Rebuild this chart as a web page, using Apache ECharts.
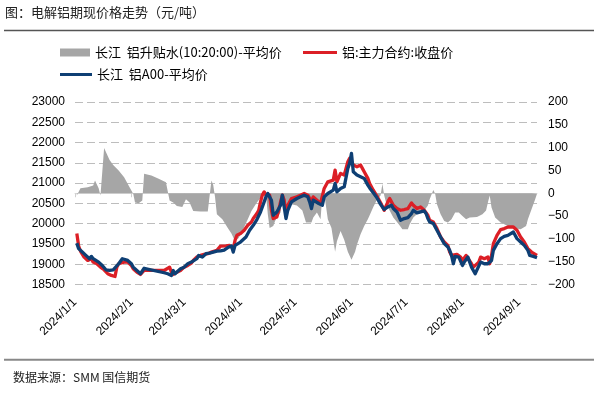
<!DOCTYPE html>
<html>
<head>
<meta charset="utf-8">
<script src="https://cdn.jsdelivr.net/npm/echarts@6/dist/echarts.min.js"></script>
<style>
html,body{margin:0;padding:0;background:#fff;}
#chart{width:594px;height:393px;}
</style>
</head>
<body>
<div id="chart"></div>
<script>
// ---- Data ----
const titleText = '图：电解铝期现价格走势（元/吨）';
const sourceText = '数据来源：SMM 国信期货';
const nameBasis = '长江  铝升贴水(10:20:00)-平均价';
const nameFutures = '铝:主力合约:收盘价';
const nameSpot = '长江  铝A00-平均价';

const xTickDates = ['2024-01-01','2024-02-01','2024-03-01','2024-04-01','2024-05-01','2024-06-01','2024-07-01','2024-08-01','2024-09-01'];
const xMinDate = '2024-01-01';
const xMaxDate = '2024-09-11';
const leftTicks = [18500, 23000, 500];   // min, max, step
const rightTicks = [-200, 200, 50];      // min, max, step

// 长江 铝A00-平均价 (left axis)
const spotDates = ['2024-01-02','2024-01-03','2024-01-05','2024-01-07','2024-01-09','2024-01-10','2024-01-11','2024-01-12','2024-01-14','2024-01-16','2024-01-18','2024-01-20','2024-01-22','2024-01-23','2024-01-25','2024-01-26','2024-01-27','2024-01-28','2024-01-30','2024-02-01','2024-02-02','2024-02-04','2024-02-06','2024-02-07','2024-02-08','2024-02-19','2024-02-21','2024-02-23','2024-02-24','2024-02-25','2024-02-26','2024-02-28','2024-03-01','2024-03-03','2024-03-05','2024-03-06','2024-03-08','2024-03-09','2024-03-11','2024-03-13','2024-03-15','2024-03-17','2024-03-19','2024-03-21','2024-03-23','2024-03-25','2024-03-27','2024-03-28','2024-03-29','2024-04-01','2024-04-04','2024-04-06','2024-04-08','2024-04-10','2024-04-12','2024-04-13','2024-04-14','2024-04-15','2024-04-16','2024-04-17','2024-04-18','2024-04-19','2024-04-20','2024-04-21','2024-04-23','2024-04-24','2024-04-25','2024-04-26','2024-04-27','2024-04-29','2024-04-30','2024-05-02','2024-05-04','2024-05-06','2024-05-08','2024-05-09','2024-05-10','2024-05-11','2024-05-12','2024-05-14','2024-05-16','2024-05-17','2024-05-19','2024-05-20','2024-05-22','2024-05-23','2024-05-24','2024-05-26','2024-05-28','2024-05-30','2024-05-31','2024-06-01','2024-06-02','2024-06-03','2024-06-04','2024-06-06','2024-06-07','2024-06-08','2024-06-10','2024-06-11','2024-06-13','2024-06-15','2024-06-17','2024-06-19','2024-06-21','2024-06-23','2024-06-24','2024-06-26','2024-06-28','2024-06-30','2024-07-02','2024-07-04','2024-07-05','2024-07-07','2024-07-09','2024-07-11','2024-07-12','2024-07-13','2024-07-14','2024-07-16','2024-07-18','2024-07-20','2024-07-22','2024-07-24','2024-07-25','2024-07-26','2024-07-27','2024-07-28','2024-07-30','2024-07-31','2024-08-01','2024-08-02','2024-08-04','2024-08-05','2024-08-06','2024-08-07','2024-08-08','2024-08-09','2024-08-11','2024-08-13','2024-08-15','2024-08-16','2024-08-17','2024-08-18','2024-08-20','2024-08-22','2024-08-24','2024-08-26','2024-08-27','2024-08-29','2024-08-30','2024-08-31','2024-09-02','2024-09-04','2024-09-06','2024-09-07','2024-09-08','2024-09-09','2024-09-11'];
const spotValues = [19520,19384,19300,19218,19136,19193,19136,19176,19052,18970,18863,18846,18863,18846,19012,19027,19136,19111,19094,19012,18928,18846,18765,18804,18900,18790,18765,18723,18846,18765,18804,18889,18928,19012,19052,19094,19136,19218,19176,19260,19275,19300,19325,19330,19350,19410,19450,19300,19465,19547,19671,19836,19960,20101,20289,20413,20537,20661,20744,20784,20579,20208,20166,20289,20455,20703,20413,20126,20331,20537,20579,20621,20661,20703,20661,20537,20372,20579,20537,20497,20455,20661,20744,20784,20826,20992,20784,20868,20908,21364,21487,21735,21280,21240,21198,21156,21198,21116,20950,20880,20760,20640,20475,20349,20413,20455,20372,20289,20084,20126,20150,20250,20331,20265,20289,20314,20250,20126,20042,20002,19836,19671,19507,19423,19342,19218,19012,19193,19176,19160,18970,19052,19176,19052,18928,18846,18765,18804,19052,19012,19012,18970,19094,19342,19507,19631,19688,19713,19738,19795,19836,19631,19547,19465,19342,19218,19218,19193,19160];

// 铝:主力合约:收盘价 (left axis)
const futuresDates = ['2024-01-02','2024-01-03','2024-01-04','2024-01-06','2024-01-08','2024-01-09','2024-01-10','2024-01-11','2024-01-13','2024-01-15','2024-01-17','2024-01-19','2024-01-21','2024-01-23','2024-01-24','2024-01-25','2024-01-26','2024-01-28','2024-01-30','2024-02-01','2024-02-02','2024-02-04','2024-02-06','2024-02-08','2024-02-19','2024-02-22','2024-02-23','2024-02-24','2024-02-25','2024-02-26','2024-02-28','2024-03-01','2024-03-03','2024-03-05','2024-03-06','2024-03-08','2024-03-10','2024-03-12','2024-03-14','2024-03-16','2024-03-19','2024-03-21','2024-03-22','2024-03-24','2024-03-25','2024-03-26','2024-03-28','2024-03-29','2024-03-30','2024-04-01','2024-04-03','2024-04-05','2024-04-07','2024-04-08','2024-04-10','2024-04-11','2024-04-12','2024-04-13','2024-04-14','2024-04-15','2024-04-16','2024-04-17','2024-04-18','2024-04-19','2024-04-20','2024-04-21','2024-04-22','2024-04-23','2024-04-24','2024-04-25','2024-04-26','2024-04-27','2024-04-29','2024-04-30','2024-05-02','2024-05-04','2024-05-06','2024-05-07','2024-05-08','2024-05-09','2024-05-10','2024-05-11','2024-05-13','2024-05-15','2024-05-17','2024-05-19','2024-05-20','2024-05-22','2024-05-23','2024-05-24','2024-05-26','2024-05-28','2024-05-30','2024-05-31','2024-06-01','2024-06-02','2024-06-03','2024-06-04','2024-06-06','2024-06-07','2024-06-08','2024-06-10','2024-06-11','2024-06-13','2024-06-15','2024-06-17','2024-06-19','2024-06-21','2024-06-22','2024-06-23','2024-06-24','2024-06-26','2024-06-28','2024-06-30','2024-07-02','2024-07-03','2024-07-04','2024-07-05','2024-07-07','2024-07-09','2024-07-11','2024-07-12','2024-07-13','2024-07-14','2024-07-16','2024-07-18','2024-07-20','2024-07-22','2024-07-24','2024-07-25','2024-07-26','2024-07-27','2024-07-29','2024-07-31','2024-08-01','2024-08-03','2024-08-04','2024-08-06','2024-08-07','2024-08-08','2024-08-10','2024-08-11','2024-08-13','2024-08-15','2024-08-16','2024-08-17','2024-08-18','2024-08-20','2024-08-22','2024-08-24','2024-08-26','2024-08-27','2024-08-29','2024-08-31','2024-09-02','2024-09-04','2024-09-06','2024-09-08','2024-09-09','2024-09-11'];
const futuresValues = [19755,19450,19325,19176,19094,19052,19136,19052,19012,18928,18863,18765,18723,18698,18928,19012,19052,19052,19052,18970,18889,18804,18748,18846,18846,18928,18804,18748,18723,18804,18846,18928,18970,19027,19094,19176,19218,19242,19260,19300,19342,19445,19465,19450,19423,19465,19384,19590,19713,19755,19836,19960,20042,20126,20250,20331,20537,20703,20784,20703,20744,20703,20331,20126,20084,20166,20331,20537,20703,20579,20250,20455,20621,20579,20661,20703,20744,20784,20703,20661,20537,20661,20579,20497,20868,21032,21032,21074,21322,21032,21240,21198,21527,21611,21652,21446,21487,21404,21446,21364,21280,21116,20990,20826,20680,20517,20331,20537,20621,20537,20455,20372,20331,20349,20372,20413,20512,20455,20372,20413,20331,20372,20208,20084,20042,19878,19671,19547,19465,19300,19218,19260,19242,19176,19094,19218,19242,19012,18928,18889,19052,19176,19136,19176,19012,19218,19507,19713,19853,19878,19918,19960,19918,19836,19671,19547,19384,19300,19275,19218];

// 长江 铝升贴水(10:20:00)-平均价 (right axis)
const basisDates = ['2024-01-02','2024-01-03','2024-01-04','2024-01-08','2024-01-11','2024-01-12','2024-01-14','2024-01-15','2024-01-17','2024-01-18','2024-01-20','2024-01-22','2024-01-25','2024-01-28','2024-01-31','2024-02-02','2024-02-03','2024-02-05','2024-02-07','2024-02-08','2024-02-12','2024-02-16','2024-02-20','2024-02-22','2024-02-24','2024-02-26','2024-02-29','2024-03-02','2024-03-04','2024-03-06','2024-03-10','2024-03-14','2024-03-16','2024-03-17','2024-03-18','2024-03-19','2024-03-22','2024-03-25','2024-03-27','2024-03-29','2024-03-31','2024-04-02','2024-04-05','2024-04-07','2024-04-10','2024-04-13','2024-04-15','2024-04-16','2024-04-17','2024-04-18','2024-04-19','2024-04-20','2024-04-21','2024-04-23','2024-04-24','2024-04-25','2024-04-26','2024-04-28','2024-04-29','2024-05-02','2024-05-05','2024-05-07','2024-05-08','2024-05-10','2024-05-11','2024-05-13','2024-05-15','2024-05-16','2024-05-17','2024-05-19','2024-05-21','2024-05-23','2024-05-24','2024-05-26','2024-05-28','2024-05-30','2024-06-01','2024-06-03','2024-06-04','2024-06-06','2024-06-08','2024-06-10','2024-06-11','2024-06-13','2024-06-15','2024-06-17','2024-06-18','2024-06-19','2024-06-20','2024-06-22','2024-06-24','2024-06-27','2024-06-29','2024-07-02','2024-07-03','2024-07-05','2024-07-08','2024-07-11','2024-07-13','2024-07-14','2024-07-16','2024-07-17','2024-07-18','2024-07-20','2024-07-22','2024-07-24','2024-07-26','2024-07-28','2024-07-30','2024-08-01','2024-08-03','2024-08-05','2024-08-06','2024-08-09','2024-08-12','2024-08-14','2024-08-15','2024-08-16','2024-08-17','2024-08-19','2024-08-22','2024-08-26','2024-08-29','2024-09-02','2024-09-05','2024-09-06','2024-09-08','2024-09-10','2024-09-11'];
const basisValues = [-5,-5,11,13,17,28,11,-5,99,102,73,62,50,35,13,-1,-20,-22,-16,43,39,32,24,-16,-20,-28,-30,-13,-20,-39,-40,-40,28,18,-9,-46,-57,-76,-88,-105,-98,-83,-57,-39,-20,-5,-1,-46,-76,-79,-72,-61,-53,-42,-1,-38,-50,-31,-24,-27,-38,-64,-68,-64,-53,-42,-57,-5,0,-57,-76,-128,-105,-83,-102,-128,-146,-128,-113,-90,-72,-57,-48,-30,-14,-5,21,-5,-20,-38,-53,-68,-79,-79,-68,-53,-42,-38,-27,-13,7,-1,-24,-46,-61,-64,-57,-42,-42,-50,-57,-53,-53,-52,-46,-38,-20,-5,-31,-53,-64,-72,-76,-79,-72,-57,-35,-13,-1];

// ---- Helpers ----
function ts(s){ const p = s.split('-').map(Number); return new Date(p[0], p[1]-1, p[2]).getTime(); }
function pairs(dates, vals){ return dates.map((d,i)=>[ts(d), vals[i]]); }
const FONT = '"Liberation Sans", Arial, sans-serif';
const CJK = '"Noto Sans CJK SC", "Liberation Sans", sans-serif';
const tickTs = xTickDates.map(ts);

const chart = echarts.init(document.getElementById('chart'), null, {renderer:'canvas'});
const option = {
  animation: false,
  backgroundColor: '#fff',
  grid: { left: 75, right: 57, top: 102, bottom: 108.5, containLabel: false },
  graphic: [
    { type:'text', left: 5, top: 6, style:{ text: titleText, font: '13px ' + CJK, fill:'#222' } },
    { type:'line', shape:{ x1:4, y1:30.5, x2:594, y2:30.5 }, style:{ stroke:'#555', lineWidth:1.6 } },
    { type:'line', shape:{ x1:4, y1:359.8, x2:594, y2:359.8 }, style:{ stroke:'#888', lineWidth:2 } },
    { type:'text', left: 13, top: 371, style:{ text: sourceText, font: '12px ' + CJK, fill:'#222' } }
  ],
  legend: [
    { data:[{name:nameBasis, icon:'rect'}], left:60, top:46, padding:0, itemWidth:30, itemHeight:8, selectedMode:false,
      textStyle:{ fontSize:13, color:'#000', fontFamily: CJK } },
    { data:[{name:nameFutures, icon:'rect'}], left:303, top:46, padding:0, itemWidth:34, itemHeight:3, selectedMode:false,
      textStyle:{ fontSize:13, color:'#000', fontFamily: CJK } },
    { data:[{name:nameSpot, icon:'rect'}], left:60, top:68, padding:0, itemWidth:32, itemHeight:3, selectedMode:false,
      textStyle:{ fontSize:13, color:'#000', fontFamily: CJK } }
  ],
  xAxis: {
    type: 'value',
    min: ts(xMinDate),
    max: ts(xMaxDate),
    axisLine: { lineStyle:{ color:'#d9d9d9', width:1 } },
    axisTick: { customValues: tickTs, length: 4, lineStyle:{ color:'#d0d0d0' } },
    splitLine: { show:false },
    axisLabel: {
      customValues: tickTs,
      rotate: 45, margin: 16, fontSize: 12, color:'#000', fontFamily: FONT,
      formatter: function(v){ const d = new Date(v); return d.getFullYear() + '/' + (d.getMonth()+1) + '/' + d.getDate(); }
    }
  },
  yAxis: [
    { type:'value', min:leftTicks[0], max:leftTicks[1], interval:leftTicks[2],
      axisLine:{ show:false }, axisTick:{ show:false },
      splitLine:{ show:true, lineStyle:{ color:'#bdbdbd', width:1, type:[8,4] } },
      axisLabel:{ fontSize:12, color:'#000', fontFamily: FONT, margin:10,
        formatter: function(v){ return String(v); } } },
    { type:'value', min:rightTicks[0], max:rightTicks[1], interval:rightTicks[2],
      axisLine:{ show:false }, axisTick:{ show:false }, splitLine:{ show:false },
      axisLabel:{ fontSize:12, color:'#000', fontFamily: FONT, margin:11,
        formatter: function(v){ return v < 0 ? '\u2212' + Math.abs(v) : String(v); } } }
  ],
  series: [
    { name: nameBasis, type:'line', yAxisIndex:1, data: pairs(basisDates, basisValues),
      symbol:'none', lineStyle:{ width:0, color:'#a6a6a6' }, itemStyle:{ color:'#a6a6a6' },
      areaStyle:{ color:'#a6a6a6', opacity:1 }, z:1 },
    { name: nameFutures, type:'line', yAxisIndex:0, data: pairs(futuresDates, futuresValues),
      symbol:'none', lineStyle:{ width:3.3, color:'#dc1f26', join:'round' }, itemStyle:{ color:'#dc1f26' }, z:2 },
    { name: nameSpot, type:'line', yAxisIndex:0, data: pairs(spotDates, spotValues),
      symbol:'none', lineStyle:{ width:3.3, color:'#0e3f74', join:'round' }, itemStyle:{ color:'#0e3f74' }, z:3 }
  ]
};
chart.setOption(option);
</script>
</body>
</html>
